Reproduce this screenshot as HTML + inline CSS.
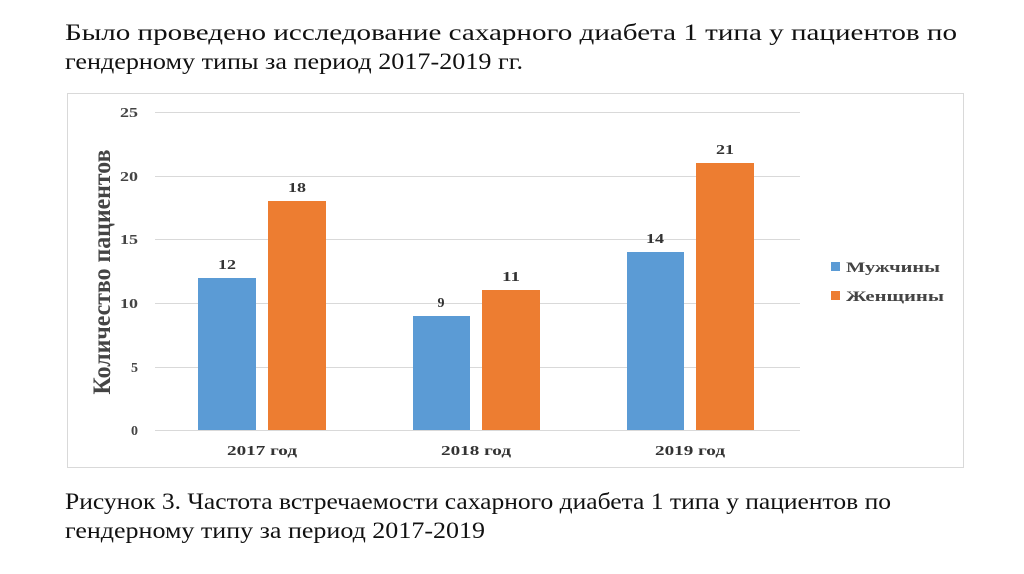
<!DOCTYPE html>
<html><head><meta charset="utf-8"><style>
body{margin:0;width:1024px;height:574px;background:#fff;overflow:hidden;font-family:"Liberation Serif",serif;}
</style></head><body>
<svg style="position:absolute;left:0;top:0" width="1024" height="574" font-family="Liberation Serif, serif">
<g font-size="23" fill="#111" lengthAdjust="spacingAndGlyphs">
<text x="65" y="40" textLength="892" lengthAdjust="spacingAndGlyphs">Было проведено исследование сахарного диабета 1 типа у пациентов по</text>
<text x="65" y="69" textLength="458" lengthAdjust="spacingAndGlyphs">гендерному типы за период 2017-2019 гг.</text>
<text x="65" y="509" textLength="826" lengthAdjust="spacingAndGlyphs">Рисунок 3. Частота встречаемости сахарного диабета 1 типа у пациентов по</text>
<text x="65" y="538" textLength="420" lengthAdjust="spacingAndGlyphs">гендерному типу за период 2017-2019</text>
</g>
<rect x="67.5" y="93.5" width="896" height="374" fill="#fff" stroke="#d9d9d9"/>
<g stroke="#d9d9d9" stroke-width="1">
<line x1="155" x2="800" y1="112.5" y2="112.5"/>
<line x1="155" x2="800" y1="176.5" y2="176.5"/>
<line x1="155" x2="800" y1="239.5" y2="239.5"/>
<line x1="155" x2="800" y1="303.5" y2="303.5"/>
<line x1="155" x2="800" y1="367.5" y2="367.5"/>
<line x1="155" x2="800" y1="430.5" y2="430.5"/>
</g>
<g font-size="14" font-weight="bold" fill="#444" text-anchor="end">
<text x="138" y="117" textLength="18" lengthAdjust="spacingAndGlyphs">25</text>
<text x="138" y="181" textLength="18" lengthAdjust="spacingAndGlyphs">20</text>
<text x="138" y="244" textLength="18" lengthAdjust="spacingAndGlyphs">15</text>
<text x="138" y="308" textLength="18" lengthAdjust="spacingAndGlyphs">10</text>
<text x="138" y="372">5</text><text x="138" y="435">0</text>
</g>
<text transform="translate(110,272) rotate(-90)" text-anchor="middle" font-size="25" font-weight="bold" fill="#444" textLength="245" lengthAdjust="spacingAndGlyphs">Количество пациентов</text>
<g fill="#5b9bd5">
<rect x="198" y="278" width="58" height="152"/>
<rect x="413" y="316" width="57" height="114"/>
<rect x="627" y="252" width="57" height="178"/>
</g>
<g fill="#ed7d31">
<rect x="268" y="201" width="58" height="229"/>
<rect x="482" y="290" width="58" height="140"/>
<rect x="696" y="163" width="58" height="267"/>
</g>
<g font-size="14" font-weight="bold" fill="#333" text-anchor="middle">
<text x="227" y="269" textLength="18" lengthAdjust="spacingAndGlyphs">12</text>
<text x="297" y="192" textLength="18" lengthAdjust="spacingAndGlyphs">18</text>
<text x="441" y="307">9</text>
<text x="511" y="281" textLength="18" lengthAdjust="spacingAndGlyphs">11</text>
<text x="655" y="243" textLength="18" lengthAdjust="spacingAndGlyphs">14</text>
<text x="725" y="154" textLength="18" lengthAdjust="spacingAndGlyphs">21</text>
<text x="262" y="455" textLength="70" lengthAdjust="spacingAndGlyphs">2017 год</text>
<text x="476" y="455" textLength="70" lengthAdjust="spacingAndGlyphs">2018 год</text>
<text x="690" y="455" textLength="70" lengthAdjust="spacingAndGlyphs">2019 год</text>
</g>
<rect x="831" y="262" width="9" height="9" fill="#5b9bd5"/>
<rect x="831" y="291" width="9" height="9" fill="#ed7d31"/>
<g font-size="15" font-weight="bold" fill="#444">
<text x="846" y="272" textLength="94" lengthAdjust="spacingAndGlyphs">Мужчины</text>
<text x="846" y="301" textLength="98" lengthAdjust="spacingAndGlyphs">Женщины</text>
</g>
</svg>
</body></html>
